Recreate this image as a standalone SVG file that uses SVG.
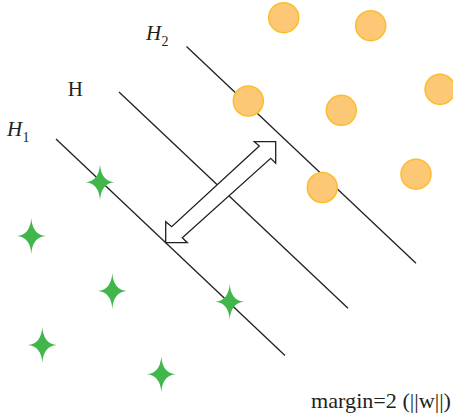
<svg xmlns="http://www.w3.org/2000/svg" width="453" height="419" viewBox="0 0 453 419">
<defs>
<style>
.hp{stroke:#231f20;stroke-width:1.3;fill:none}
.pt{fill:#fdc875;stroke:#fbbd2c;stroke-width:1.5}
.st{fill:#40b64b}
.lb{font-family:"Liberation Serif",serif;fill:#231f20}
.it{font-style:italic}
.ar{fill:#fff;stroke:#231f20;stroke-width:1.3;stroke-linejoin:miter}
</style>
<path id="star" d="M0,-18 Q1.1,-1.1 14.5,0 Q1.1,1.1 0,18 Q-1.1,1.1 -14.5,0 Q-1.1,-1.1 0,-18 Z"/>
</defs>
<rect width="453" height="419" fill="#fff"/>
<g id="connectors">
<line id="H1-line" class="hp" x1="56" y1="139" x2="285" y2="355.5"/>
<line id="H-line" class="hp" x1="119" y1="92" x2="348" y2="308.3"/>
<line id="H2-line" class="hp" x1="186.5" y1="46.5" x2="416" y2="263.3"/>
<path id="margin-arrow" class="ar" d="M275.7,141.7 L254.3,141.7 L259.3,146 L171.7,226.7 L165.7,221.7 L165.7,242.7 L187.3,242.7 L182.3,237.7 L270.7,158.3 L275.7,163.3 Z"/>
</g>
<g id="circles">
<circle id="c1" class="pt" cx="283.7" cy="17.7" r="15"/>
<circle id="c2" class="pt" cx="370.7" cy="25.7" r="15"/>
<circle id="c3" class="pt" cx="440" cy="89.3" r="15"/>
<circle id="c4" class="pt" cx="248.3" cy="101" r="15"/>
<circle id="c5" class="pt" cx="341.3" cy="110.3" r="15"/>
<circle id="c6" class="pt" cx="322.3" cy="187.5" r="15"/>
<circle id="c7" class="pt" cx="416" cy="174.2" r="15"/>
</g>
<g id="stars">
<use id="s1" class="st" href="#star" x="100" y="182.3"/>
<use id="s2" class="st" href="#star" x="31.3" y="236"/>
<use id="s3" class="st" href="#star" x="112.3" y="291"/>
<use id="s4" class="st" href="#star" x="229.7" y="301.7"/>
<use id="s5" class="st" href="#star" x="42.3" y="345"/>
<use id="s6" class="st" href="#star" x="161.3" y="374.3"/>
</g>
<g id="labels">
<g id="label-H2"><text class="lb it" x="146" y="40" font-size="21">H</text><text class="lb" x="161.5" y="46" font-size="14">2</text></g>
<g id="label-H"><text class="lb" x="67.8" y="96" font-size="21">H</text></g>
<g id="label-H1"><text class="lb it" x="7" y="136" font-size="21">H</text><text class="lb" x="22.5" y="142" font-size="14">1</text></g>
<g id="label-margin"><text class="lb" x="311" y="408.3" font-size="22" textLength="140" lengthAdjust="spacingAndGlyphs">margin=2 (||w||)</text></g>
</g>
</svg>
